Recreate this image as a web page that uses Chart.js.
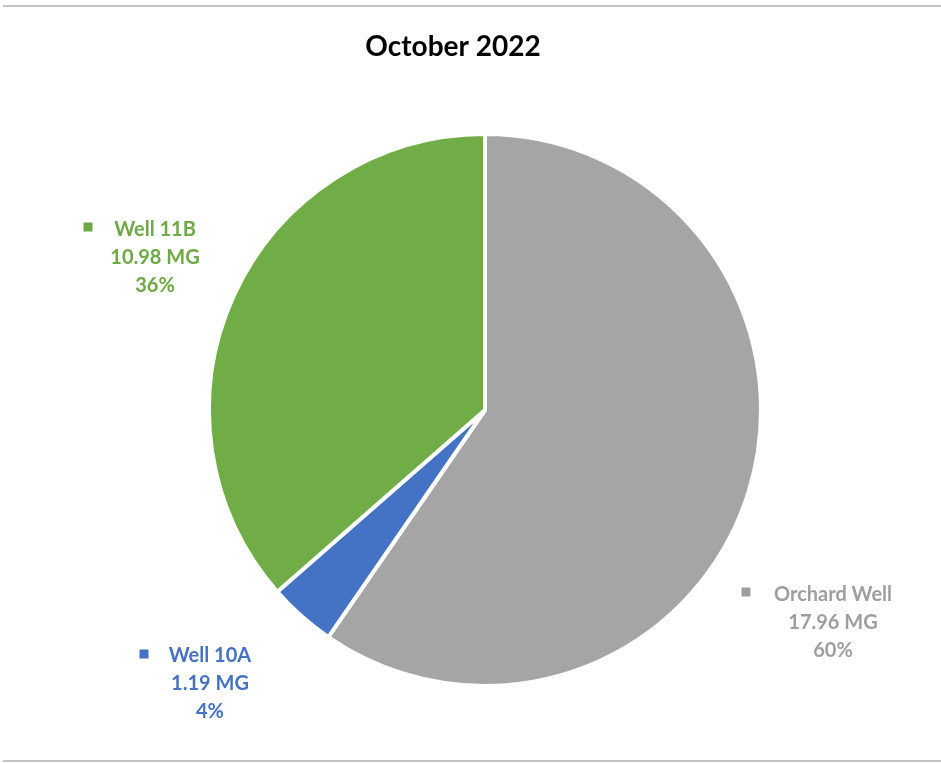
<!DOCTYPE html>
<html>
<head>
<meta charset="utf-8">
<script src="https://cdn.jsdelivr.net/npm/chart.js@4/dist/chart.umd.min.js"></script>
<style>
  html, body { margin: 0; padding: 0; background: #ffffff; }
  #wrap { width: 941px; height: 763px; position: relative; }
</style>
</head>
<body>
<div id="wrap"><canvas id="c" width="941" height="763"></canvas></div>
<script>
// Monthly production by well (million gallons)
const chartTitle = 'October 2022';
const wells = ['Orchard Well', 'Well 10A', 'Well 11B'];
const volumesMG = [17.96, 1.19, 10.98];
const sliceColors = ['#A5A5A5', '#4472C4', '#70AD47'];
const labelColors = ['#9E9E9E', '#4472C4', '#6DA945'];

// Where each label block sits (centre x of text, baseline of first line, marker centre)
const labelLayout = [
  { x: 833, y: 601, markerX: 746, markerY: 592 },
  { x: 210, y: 662, markerX: 144, markerY: 654 },
  { x: 155, y: 236, markerX: 88, markerY: 227 }
];

const total = volumesMG.reduce((a, b) => a + b, 0);

const decorations = {
  id: 'decorations',
  beforeDraw(chart) {
    const ctx = chart.ctx;
    ctx.save();
    ctx.fillStyle = '#ffffff';
    ctx.fillRect(0, 0, chart.width, chart.height);
    ctx.strokeStyle = '#c4c4c4';
    ctx.lineWidth = 2;
    ctx.beginPath();
    ctx.moveTo(3, 6); ctx.lineTo(chart.width, 6);
    ctx.moveTo(3, 761); ctx.lineTo(chart.width, 761);
    ctx.stroke();
    // title
    ctx.fillStyle = '#000000';
    ctx.font = 'bold 28px Lato, "Open Sans", sans-serif';
    ctx.textAlign = 'center';
    ctx.textBaseline = 'alphabetic';
    ctx.fillText(chartTitle, 453, 56);
    ctx.restore();
  },
  afterDraw(chart) {
    const ctx = chart.ctx;
    const data = chart.data.datasets[0].data;
    ctx.save();
    ctx.font = 'bold 20px Lato, "Open Sans", sans-serif';
    ctx.textAlign = 'center';
    ctx.textBaseline = 'alphabetic';
    chart.data.labels.forEach((name, i) => {
      const pos = labelLayout[i];
      const v = data[i];
      const pct = Math.round(v / total * 100) + '%';
      ctx.fillStyle = labelColors[i];
      ctx.fillRect(pos.markerX - 4.5, pos.markerY - 4.5, 9, 9);
      ctx.fillText(name, pos.x, pos.y);
      ctx.fillText(v.toFixed(2) + ' MG', pos.x, pos.y + 28);
      ctx.fillText(pct, pos.x, pos.y + 56);
    });
    ctx.restore();
  }
};

new Chart(document.getElementById('c'), {
  type: 'pie',
  data: {
    labels: wells,
    datasets: [{
      data: volumesMG,
      backgroundColor: sliceColors,
      borderColor: '#ffffff',
      borderWidth: 4
    }]
  },
  options: {
    responsive: false,
    animation: false,
    layout: { padding: { top: 132, bottom: 75, left: 207, right: 178 } },
    plugins: {
      legend: { display: false },
      title: { display: false },
      tooltip: { enabled: false }
    }
  },
  plugins: [decorations]
});
</script>
</body>
</html>
